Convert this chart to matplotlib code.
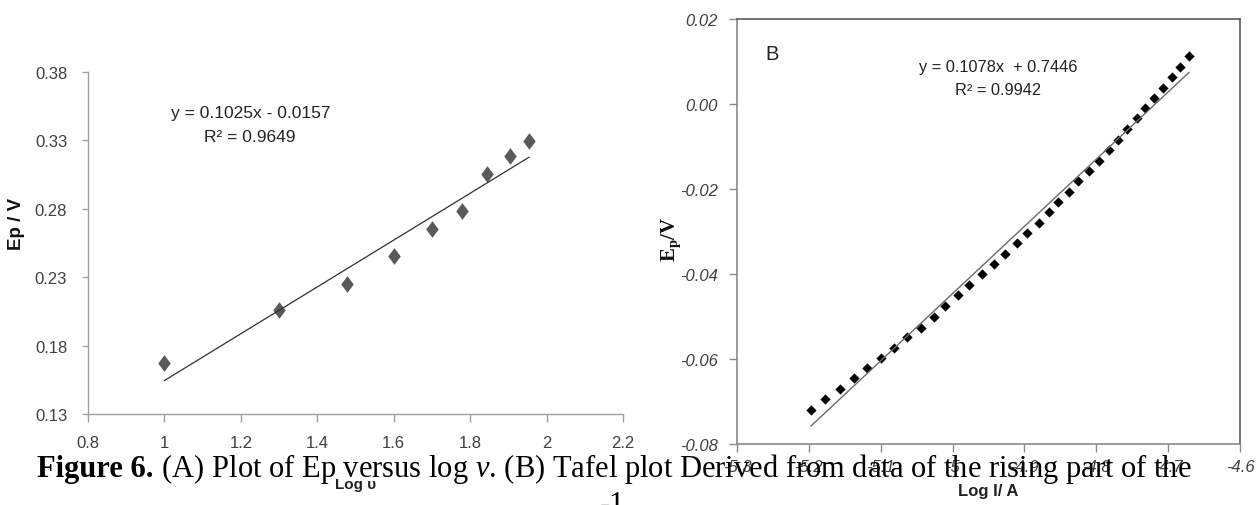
import numpy as np
import matplotlib
matplotlib.use("Agg")
import matplotlib.pyplot as plt
from matplotlib.path import Path
from matplotlib.ticker import FuncFormatter, FixedLocator

# ---------------- data ----------------
logv = [1.000, 1.301, 1.477, 1.602, 1.699, 1.778, 1.845, 1.903, 1.954]
ep_a = [0.167, 0.206, 0.225, 0.2457, 0.2655, 0.2786, 0.3055, 0.3188, 0.3292]

logI = [-5.197, -5.178, -5.157, -5.137, -5.119, -5.100, -5.082, -5.063, -5.044,
        -5.026, -5.011, -4.993, -4.977, -4.959, -4.943, -4.927, -4.911, -4.896,
        -4.880, -4.866, -4.853, -4.838, -4.825, -4.810, -4.796, -4.783, -4.770,
        -4.757, -4.744, -4.732, -4.719, -4.707, -4.695, -4.683, -4.671]
ep_b = [-0.0720, -0.0694, -0.0670, -0.0645, -0.0622, -0.0598, -0.0574, -0.0549,
        -0.0526, -0.0500, -0.0475, -0.0449, -0.0425, -0.0401, -0.0376, -0.0352,
        -0.0328, -0.0303, -0.0279, -0.0254, -0.0230, -0.0206, -0.0182, -0.0158,
        -0.0133, -0.0109, -0.0085, -0.0059, -0.0034, -0.0010, 0.0015, 0.0038,
        0.0064, 0.0088, 0.0112]

xticks_a = [0.8, 1.0, 1.2, 1.4, 1.6, 1.8, 2.0, 2.2]
yticks_a = [0.13, 0.18, 0.23, 0.28, 0.33, 0.38]
xticks_b = [-5.3, -5.2, -5.1, -5.0, -4.9, -4.8, -4.7, -4.6]
yticks_b = [-0.08, -0.06, -0.04, -0.02, 0.00, 0.02]

eq_a = "y = 0.1025x - 0.0157"
r2_a = "R² = 0.9649"
eq_b = "y = 0.1078x  + 0.7446"
r2_b = "R² = 0.9942"

# ---------------- fonts ----------------
SANS = "Liberation Sans"
SERIF = "Liberation Serif"
plt.rcParams["mathtext.fontset"] = "custom"
plt.rcParams["mathtext.rm"] = SERIF
plt.rcParams["mathtext.it"] = SERIF + ":italic"
plt.rcParams["mathtext.bf"] = SERIF + ":bold"

W, H = 1259, 506
fig = plt.figure(figsize=(W / 100, H / 100), dpi=100)

tall_diamond = Path([(0, 1), (0.75, 0), (0, -1), (-0.75, 0), (0, 1)],
                    [Path.MOVETO, Path.LINETO, Path.LINETO, Path.LINETO, Path.CLOSEPOLY])
sq_diamond = Path([(0, 1), (1, 0), (0, -1), (-1, 0), (0, 1)],
                  [Path.MOVETO, Path.LINETO, Path.LINETO, Path.LINETO, Path.CLOSEPOLY])

# ---------------- panel A ----------------
axA = fig.add_axes([88 / W, 1 - 415 / H, 535 / W, 342 / H])
axA.scatter(logv, ep_a, marker=tall_diamond, s=12 ** 2, color="#5a5a5a",
            linewidths=0, zorder=2)
ka, ba = np.polyfit(logv, ep_a, 1)
xa = np.array([min(logv), max(logv)])
axA.plot(xa, ka * xa + ba, color="#303030", lw=0.9, zorder=3)
axA.set_xlim(0.8, 2.2)
axA.set_ylim(0.13, 0.38)
axA.xaxis.set_major_locator(FixedLocator(xticks_a))
axA.yaxis.set_major_locator(FixedLocator(yticks_a))
axA.xaxis.set_major_formatter(FuncFormatter(lambda v, p: f"{v:g}"))
axA.yaxis.set_major_formatter(FuncFormatter(lambda v, p: f"{v:.2f}"))
for s in ("top", "right"):
    axA.spines[s].set_visible(False)
for s in ("left", "bottom"):
    axA.spines[s].set_color("#a0a0a0")
    axA.spines[s].set_linewidth(1.0)
axA.tick_params(axis="y", direction="out", length=4, width=1, color="#a0a0a0",
                labelsize=12, labelcolor="#404040", pad=11)
axA.tick_params(axis="x", direction="out", length=6, width=1, color="#a0a0a0",
                labelsize=12, labelcolor="#404040", pad=9)
for lab in axA.get_xticklabels() + axA.get_yticklabels():
    lab.set_fontfamily(SANS)
axA.text(1.225, 0.3505, eq_a, ha="center", va="center", fontsize=12.5,
         family=SANS, color="#222222")
axA.text(1.222, 0.3325, r2_a, ha="center", va="center", fontsize=12.5,
         family=SANS, color="#222222")
axA.set_ylabel("Ep / V", fontsize=13.5, family=SANS, fontweight="bold",
               color="#111111")
axA.yaxis.set_label_coords(-0.117, 0.56)
axA.set_xlabel("Log υ", fontsize=11, family=SANS, fontweight="bold",
               color="#222222")
axA.xaxis.set_label_coords(0.5, -0.185)

# ---------------- panel B ----------------
axB = fig.add_axes([737 / W, 1 - 445 / H, 503 / W, 425 / H])
axB.scatter(logI, ep_b, marker=sq_diamond, s=7.4 ** 2, color="black",
            linewidths=0, zorder=2)
kb, bb = np.polyfit(logI, ep_b, 1)
xb = np.array([min(logI), max(logI)])
axB.plot(xb, kb * xb + bb, color="#6a6a6a", lw=1.0, zorder=3)
axB.set_xlim(-5.3, -4.6)
axB.set_ylim(-0.08, 0.02)
axB.xaxis.set_major_locator(FixedLocator(xticks_b))
axB.yaxis.set_major_locator(FixedLocator(yticks_b))
axB.xaxis.set_major_formatter(FuncFormatter(lambda v, p: f"{v:g}"))
axB.yaxis.set_major_formatter(FuncFormatter(lambda v, p: f"{v:.2f}"))
for s in ("top", "right"):
    axB.spines[s].set_color("#5a5a5a")
    axB.spines[s].set_linewidth(1.2)
for s in ("left", "bottom"):
    axB.spines[s].set_color("#8a8a8a")
    axB.spines[s].set_linewidth(1.2)
axB.tick_params(direction="out", length=6, width=1, color="#8a8a8a",
                labelsize=12, labelcolor="#404040")
axB.tick_params(axis="y", pad=8)
axB.tick_params(axis="x", pad=5)
for lab in axB.get_xticklabels() + axB.get_yticklabels():
    lab.set_fontfamily(SANS)
    lab.set_fontstyle("italic")
axB.text(-5.251, 0.0118, "B", ha="center", va="center", fontsize=14.5,
         family=SANS, color="#222222")
axB.text(-4.937, 0.0088, eq_b, ha="center", va="center", fontsize=11.8,
         family=SANS, color="#222222")
axB.text(-4.936, 0.0035, r2_b, ha="center", va="center", fontsize=11.8,
         family=SANS, color="#222222")
axB.set_ylabel(r"$\mathbf{E_p/V}$", fontsize=15, color="#111111")
axB.yaxis.set_label_coords(-0.107, 0.485)
axB.set_xlabel("Log I/ A", fontsize=12, family=SANS, fontweight="bold",
               color="#222222")
axB.xaxis.set_label_coords(0.5, -0.092)

# ---------------- caption overlay ----------------
cap_bold = "Figure 6."
cap_rest = (r" (A) Plot of Ep versus log $\mathit{v}$. "
            r"(B) Tafel plot Derived from data of the rising part of the")
t1 = fig.text(37 / W, 1 - 477 / H, cap_bold, ha="left", va="baseline",
              fontsize=22, family=SERIF, fontweight="bold", color="black",
              zorder=10)
renderer = fig.canvas.get_renderer()
x1 = t1.get_window_extent(renderer).x1
fig.text(x1 / W, 1 - 477 / H, cap_rest, ha="left", va="baseline",
         fontsize=22, family=SERIF, color="black", zorder=10)
fig.text(600 / W, 1 - 491 / H, "-1", ha="left", va="top", fontsize=22,
         family=SERIF, color="black", zorder=10)

fig.savefig("out.png", dpi=100, facecolor="white")
